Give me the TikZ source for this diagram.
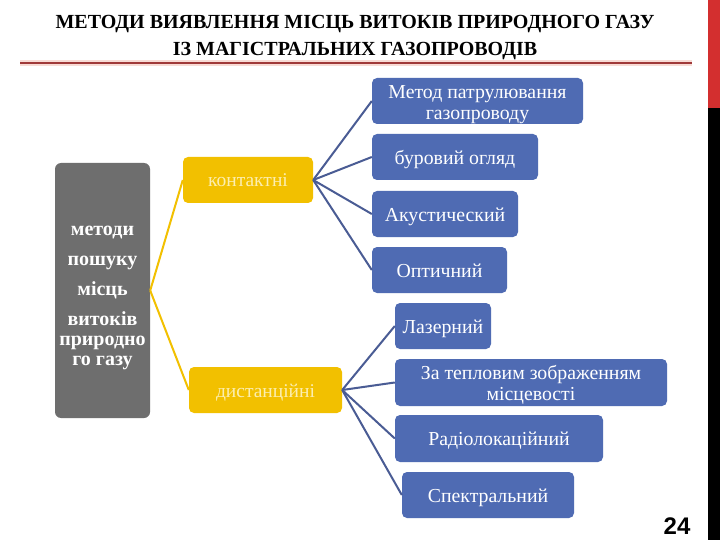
\documentclass[tikz,border=0pt]{standalone}
\usepackage{fontspec}
\setmainfont{Liberation Serif}
\newfontfamily\numfont{Liberation Sans}
\definecolor{graybox}{HTML}{6E6E6E}
\definecolor{goldbox}{HTML}{F2C000}
\definecolor{goldtext}{HTML}{FCEEB0}
\definecolor{bluebox}{HTML}{4F6BB3}
\definecolor{blueline}{HTML}{4A5C94}
\definecolor{titleline}{HTML}{A03A3A}
\definecolor{glow}{HTML}{F8DCD6}
\definecolor{sidered}{HTML}{D32F2F}
% lower the printed text without changing the size that the node measures
\newcommand\lowertxt[2]{\raisebox{-#1}[\height][\depth]{\begin{tabular}{@{}c@{}}#2\end{tabular}}}
\tikzset{
  mainbox/.style={rectangle, rounded corners=6pt, fill=graybox, text=white, inner sep=0pt,
    minimum width=95pt, minimum height=255pt, align=center,
    font=\bfseries\fontsize{20}{20}\selectfont},
  catbox/.style={rectangle, rounded corners=5pt, fill=goldbox, text=goldtext, inner sep=0pt,
    minimum height=46pt, align=center, font=\fontsize{19.5}{21}\selectfont},
  methbox/.style={rectangle, rounded corners=5pt, fill=bluebox, text=white, inner sep=0pt,
    minimum height=46pt, align=center, font=\fontsize{19.8}{21}\selectfont},
  goldlink/.style={draw=goldbox, line width=2pt},
  bluelink/.style={draw=blueline, line width=2pt},
}
\begin{document}
\begin{tikzpicture}[x=1pt,y=-1pt]
\useasboundingbox (0,0) rectangle (720,540);
\fill[white] (0,0) rectangle (720,540);
% right side bars
\fill[sidered] (708,0) rectangle (720,108);
\fill[black] (708,108) rectangle (720,540);
% title
\node[font=\bfseries\fontsize{20}{20}\selectfont, inner sep=0pt] (t1) at (355,24.5) {МЕТОДИ ВИЯВЛЕННЯ МІСЦЬ ВИТОКІВ ПРИРОДНОГО ГАЗУ};
\node[font=\bfseries\fontsize{20}{20}\selectfont, inner sep=0pt] (t2) at (355,51) {ІЗ МАГІСТРАЛЬНИХ ГАЗОПРОВОДІВ};
\draw[glow, line width=6pt] (20,63) -- (692,63);
\draw[titleline, line width=2.2pt] (20,63) -- (692,63);
% main box
\node[mainbox] (main) at (102.5,290.5) {\lowertxt{6pt}{методи\\[10pt]пошуку\\[10pt]місць\\[10pt]витоків\\природно\\го газу}};
% categories
\node[catbox, minimum width=130pt] (kont) at (248,180) {\lowertxt{2.5pt}{контактні}};
\node[catbox, minimum width=153pt] (dist) at (265.5,390) {\lowertxt{3pt}{дистанційні}};
% methods
\node[methbox, minimum width=211pt] (b1) at (477.5,101) {\lowertxt{3.5pt}{Метод патрулювання\\газопроводу}};
\node[methbox, minimum width=166pt] (b2) at (455,157) {\lowertxt{3pt}{буровий огляд}};
\node[methbox, minimum width=146pt] (b3) at (445,214) {\lowertxt{3pt}{Акустический}};
\node[methbox, minimum width=135pt] (b4) at (439.5,270) {\lowertxt{3pt}{Оптичний}};
\node[methbox, minimum width=96pt] (b5) at (443,326) {\lowertxt{3pt}{Лазерний}};
\node[methbox, minimum width=272pt, minimum height=47pt] (b6) at (531,382.5) {\lowertxt{3.5pt}{За тепловим зображенням\\місцевості}};
\node[methbox, minimum width=208pt, minimum height=47pt] (b7) at (499,438.5) {\lowertxt{3pt}{Радіолокаційний}};
\node[methbox, minimum width=172pt] (b8) at (488,495) {\lowertxt{3pt}{Спектральний}};
% connectors
\draw[goldlink] (main.east) -- (kont.west);
\draw[goldlink] (main.east) -- (dist.west);
\foreach \b in {b1,b2,b3,b4} \draw[bluelink] (kont.east) -- (\b.west);
\foreach \b in {b5,b6,b7,b8} \draw[bluelink] (dist.east) -- (\b.west);
% page number
\node[font=\numfont\bfseries\fontsize{24}{24}\selectfont, inner sep=0pt] (pg) at (677,526) {24};
\end{tikzpicture}
\end{document}
